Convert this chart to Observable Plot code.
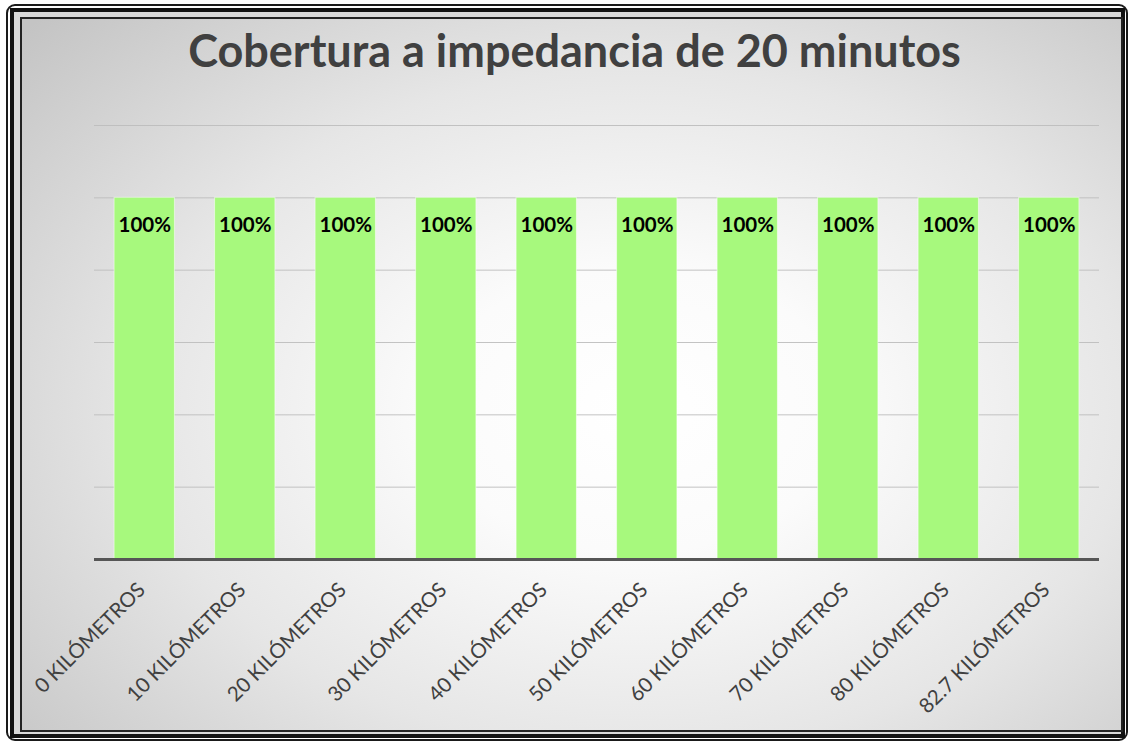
<!DOCTYPE html>
<html>
<head>
<meta charset="utf-8">
<script src="https://cdn.jsdelivr.net/npm/d3@7"></script>
<script src="https://cdn.jsdelivr.net/npm/@observablehq/plot@0.6"></script>
<style>
  html, body { margin: 0; padding: 0; background: #ffffff; }
  #page { position: relative; width: 1129px; height: 742px; overflow: hidden; background: #ffffff; }
  .f1 { position: absolute; left: 6px; top: 4px; right: 1px; bottom: 1px; border: 2px solid #1a1a1a; border-radius: 9px; background: #ffffff; }
  .f2 { position: absolute; left: 10px; top: 8px; right: 4px; bottom: 4px; border: 4px solid #111111; background: #d8d8d8; }
  .f3 { position: absolute; left: 20px; top: 17px; right: 6px; bottom: 10px; border: 2px solid #222222;
        background: radial-gradient(ellipse 75% 80% at 56% 55%, #ffffff 0%, #fbfbfb 25%, #e6e6e6 60%, #c4c4c4 100%); }
  #title { position: absolute; left: 10px; width: 1129px; top: 22px; text-align: center; line-height: 56px;
           font-family: Lato, "Open Sans", sans-serif; font-weight: bold; font-size: 45px; color: #404040; }
  #chart { position: absolute; left: 0; top: 0; }
</style>
</head>
<body>
<div id="page">
  <div class="f1"></div>
  <div class="f2"></div>
  <div class="f3"></div>
  <div id="title">Cobertura a impedancia de 20 minutos</div>
  <div id="chart"></div>
</div>
<script>
const categories = ["0 KILÓMETROS", "10 KILÓMETROS", "20 KILÓMETROS", "30 KILÓMETROS", "40 KILÓMETROS",
                    "50 KILÓMETROS", "60 KILÓMETROS", "70 KILÓMETROS", "80 KILÓMETROS", "82.7 KILÓMETROS"];
const coverage = [1, 1, 1, 1, 1, 1, 1, 1, 1, 1];
const yTicks = [0.2, 0.4, 0.6, 0.8, 1.0, 1.2];

const data = categories.map((c, i) => ({category: c, value: coverage[i]}));

const chart = Plot.plot({
  width: 1129,
  height: 742,
  marginLeft: 94,
  marginRight: 30,
  marginTop: 125,
  marginBottom: 183,
  style: {background: "transparent", overflow: "visible"},
  x: {domain: categories, paddingInner: 0.4, paddingOuter: 0.2, round: false, label: null},
  y: {domain: [0, 1.2], axis: null},
  marks: [
    Plot.ruleY(yTicks, {stroke: "#bdbdbd", strokeWidth: 1, strokeOpacity: 0.9}),
    Plot.barY(data, {x: "category", y: "value", fill: "#a7f97d", stroke: "#ffffff", strokeOpacity: 0.5, strokeWidth: 1}),
    Plot.text(data, {x: "category", y: "value", text: d => Math.round(d.value * 100) + "%", dy: 28,
      fill: "#000000", fontWeight: "bold", fontSize: 20.5, fontFamily: "Lato, 'Open Sans', sans-serif"}),
    Plot.ruleY([0], {stroke: "#565656", strokeWidth: 3}),
    Plot.axisX({tickSize: 0, tickPadding: 27, dx: -3, tickRotate: -45, fontSize: 20.5, fill: "#404040",
      fontFamily: "Lato, 'Open Sans', sans-serif", label: null})
  ]
});
document.getElementById("chart").appendChild(chart);
</script>
</body>
</html>
